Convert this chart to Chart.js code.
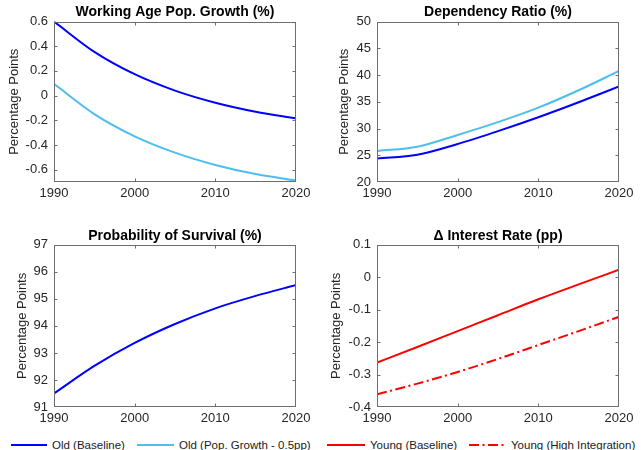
<!DOCTYPE html>
<html>
<head>
<meta charset="utf-8">
<script src="https://cdn.jsdelivr.net/npm/chart.js@4"></script>
<style>
  html, body { margin: 0; padding: 0; background: #fff; width: 641px; height: 450px; overflow: hidden;
    font-family: "Liberation Sans", Arial, Helvetica, sans-serif; }
  canvas { position: absolute; }
  #legend { position: absolute; left: 0; top: 437px; width: 641px; height: 16px; font-size: 11.5px; color: #1a1a1a; }
  .item { position: absolute; top: 0; height: 16px; line-height: 16px; white-space: nowrap; }
  .item svg { position: absolute; top: 0; }
  .item span { position: absolute; top: 0; }
</style>
</head>
<body>
<canvas id="pWork" width="320" height="205" style="left:0;top:0"></canvas>
<canvas id="pDep" width="319" height="205" style="left:322px;top:0"></canvas>
<canvas id="pSurv" width="320" height="206" style="left:0;top:224px"></canvas>
<canvas id="pRate" width="319" height="206" style="left:322px;top:224px"></canvas>
<div id="legend"></div>
<script>
// ---- data ----
const years = [1990, 1995, 2000, 2005, 2010, 2015, 2020];
const yearTicks = [1990, 2000, 2010, 2020];

const workAgeBaseline = [0.600, 0.354, 0.173, 0.040, -0.058, -0.131, -0.184];
const workAgeLowGrowth = [0.095, -0.150, -0.330, -0.462, -0.562, -0.636, -0.688];
const workAgeTicks = [-0.6, -0.4, -0.2, 0, 0.2, 0.4, 0.6];
const workAgeLimits = [-0.7, 0.6];

const depBaseline = [24.4, 25.1, 27.1, 29.5, 32.1, 34.9, 37.85];
const depLowGrowth = [25.8, 26.6, 28.8, 31.2, 33.9, 37.15, 40.75];
const depTicks = [20, 25, 30, 35, 40, 45, 50];
const depLimits = [20, 50];

const survival = [91.50, 92.52, 93.37, 94.07, 94.65, 95.11, 95.51];
const survTicks = [91, 92, 93, 94, 95, 96, 97];
const survLimits = [91, 97];

const rateYoungBaseline = [-0.263, -0.215, -0.166, -0.117, -0.068, -0.022, 0.023];
const rateYoungHighInt = [-0.361, -0.328, -0.292, -0.252, -0.209, -0.166, -0.122];
const rateTicks = [-0.4, -0.3, -0.2, -0.1, 0, 0.1];
const rateLimits = [-0.4, 0.1];

const legendLabels = ['Old (Baseline)', 'Old (Pop. Growth - 0.5pp)', 'Young (Baseline)', 'Young (High Integration)'];

// ---- styles ----
const FONT = '"Liberation Sans", Arial, Helvetica, sans-serif';
const AXIS_COLOR = '#262626';
const BLUE = '#0000ff';
const LIGHT_BLUE = '#4dbeee';
const RED = '#ff0000';
const DASH_DOT = [10, 3.5, 2, 3.5];
const legendStyles = [
  { color: BLUE, dash: [] },
  { color: LIGHT_BLUE, dash: [] },
  { color: RED, dash: [] },
  { color: RED, dash: DASH_DOT }
];
const legendLayout = [ [11, 52], [137, 179], [327, 370], [469, 511] ];

const toPoints = ys => years.map((x, i) => ({ x, y: ys[i] }));
const fmt = v => Number(v.toFixed(2)).toString();

// box around the plot area with short inward tick marks on every side
const framePlugin = {
  id: 'frame',
  afterDraw(chart) {
    const { ctx, chartArea: a, scales: { x, y } } = chart;
    const L = Math.round(a.left) + 0.5, R = Math.round(a.right) - 0.5;
    const T = Math.round(a.top) + 0.5, B = Math.round(a.bottom) - 0.5;
    const len = 3;
    ctx.save();
    ctx.strokeStyle = '#6e6e6e';
    ctx.lineWidth = 1;
    ctx.strokeRect(L, T, R - L, B - T);
    ctx.beginPath();
    x.ticks.forEach(t => {
      const px = Math.round(x.getPixelForValue(t.value)) + 0.5;
      if (px <= L + 1 || px >= R - 1) return;
      ctx.moveTo(px, B); ctx.lineTo(px, B - len);
      ctx.moveTo(px, T); ctx.lineTo(px, T + len);
    });
    y.ticks.forEach(t => {
      const py = Math.round(y.getPixelForValue(t.value)) + 0.5;
      if (py <= T + 1 || py >= B - 1) return;
      ctx.moveTo(L, py); ctx.lineTo(L + len, py);
      ctx.moveTo(R, py); ctx.lineTo(R - len, py);
    });
    ctx.stroke();
    ctx.restore();
  }
};

function panel(id, cfg) {
  const tickFont = { family: FONT, size: 13 };
  return new Chart(document.getElementById(id), {
    type: 'line',
    data: {
      datasets: cfg.series.map(s => ({
        data: toPoints(s.values),
        borderColor: s.color,
        borderWidth: 2,
        borderDash: s.dash || [],
        pointRadius: 0,
        fill: false,
        cubicInterpolationMode: 'monotone'
      }))
    },
    options: {
      responsive: false,
      animation: false,
      devicePixelRatio: 1,
      layout: { padding: { left: 0, right: cfg.padRight, top: 0, bottom: 0 } },
      plugins: {
        legend: { display: false },
        tooltip: { enabled: false },
        title: {
          display: true, text: cfg.title, fullSize: false, color: '#000',
          font: { family: FONT, size: 14, weight: 'bold', lineHeight: 1.2 },
          padding: cfg.titlePad
        }
      },
      scales: {
        x: {
          type: 'linear', min: 1990, max: 2020,
          grid: { display: false, drawTicks: false },
          border: { display: false },
          ticks: { font: tickFont, color: AXIS_COLOR, padding: 4, maxRotation: 0, autoSkip: false,
                   callback: v => String(v) },
          afterBuildTicks: s => { s.ticks = yearTicks.map(v => ({ value: v })); },
          afterFit: s => { s.height = cfg.xHeight; }
        },
        y: {
          type: 'linear', min: cfg.limits[0], max: cfg.limits[1],
          grid: { display: false, drawTicks: false },
          border: { display: false },
          ticks: { font: tickFont, color: AXIS_COLOR, padding: 6, autoSkip: false, callback: v => fmt(v) },
          afterBuildTicks: s => { s.ticks = cfg.ticks.map(v => ({ value: v })); },
          afterFit: s => { s.width = cfg.yWidth; },
          title: {
            display: true, text: 'Percentage Points', color: AXIS_COLOR,
            font: { family: FONT, size: 13, lineHeight: 1.2 },
            padding: { top: cfg.yTitlePad, bottom: 0 }
          }
        }
      }
    },
    plugins: [framePlugin]
  });
}

panel('pWork', {
  title: 'Working Age Pop. Growth (%)',
  series: [ { values: workAgeBaseline, color: BLUE }, { values: workAgeLowGrowth, color: LIGHT_BLUE } ],
  ticks: workAgeTicks, limits: workAgeLimits,
  yWidth: 54, padRight: 24, xHeight: 23, titlePad: { top: 4, bottom: 0.7 }, yTitlePad: 6.5
});
panel('pDep', {
  title: 'Dependency Ratio (%)',
  series: [ { values: depBaseline, color: BLUE }, { values: depLowGrowth, color: LIGHT_BLUE } ],
  ticks: depTicks, limits: depLimits,
  yWidth: 55, padRight: 22, xHeight: 23, titlePad: { top: 4, bottom: 0.7 }, yTitlePad: 14.5
});
panel('pSurv', {
  title: 'Probability of Survival (%)',
  series: [ { values: survival, color: BLUE } ],
  ticks: survTicks, limits: survLimits,
  yWidth: 54, padRight: 24, xHeight: 23, titlePad: { top: 4, bottom: 0 }, yTitlePad: 14.5
});
panel('pRate', {
  title: '\u0394 Interest Rate (pp)',
  series: [ { values: rateYoungBaseline, color: RED }, { values: rateYoungHighInt, color: RED, dash: DASH_DOT } ],
  ticks: rateTicks, limits: rateLimits,
  yWidth: 55, padRight: 22, xHeight: 23, titlePad: { top: 4, bottom: 0 }, yTitlePad: 6.5
});

// legend row under the panels
const legend = document.getElementById('legend');
legendLabels.forEach((label, i) => {
  const [sx, tx] = legendLayout[i];
  const st = legendStyles[i];
  const item = document.createElement('div');
  item.className = 'item';
  item.style.left = '0px';
  const w = tx - sx - 5;
  item.innerHTML =
    `<svg width="${w}" height="16" style="left:${sx}px"><line x1="0" y1="8" x2="${w}" y2="8" stroke="${st.color}" stroke-width="2" stroke-dasharray="${st.dash.join(' ') || 'none'}"/></svg>` +
    `<span style="left:${tx}px">${label}</span>`;
  legend.appendChild(item);
});
</script>
</body>
</html>
